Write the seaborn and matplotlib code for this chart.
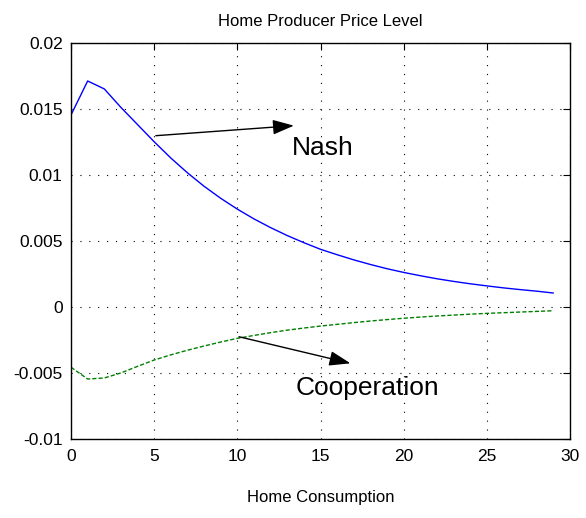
"""Home producer price level: Nash vs Cooperation impulse responses."""
import matplotlib
matplotlib.use("Agg")
import matplotlib.pyplot as plt
import numpy as np
import pandas as pd
import seaborn as sns

periods = list(range(30))
nash = [0.01453, 0.0171, 0.0165, 0.0151, 0.0138, 0.0125, 0.01127, 0.01015,
        0.00913, 0.00822, 0.00740, 0.00666, 0.00600, 0.00540, 0.00486,
        0.00436, 0.00395, 0.00356, 0.00321, 0.00289, 0.00261, 0.00236,
        0.00213, 0.00193, 0.00175, 0.00159, 0.00144, 0.00131, 0.00119,
        0.00105]
cooperation = [-0.00457, -0.00546, -0.00538, -0.0050, -0.0045, -0.00402,
               -0.00363, -0.00328, -0.00296, -0.00266, -0.00238, -0.00216,
               -0.00195, -0.00176, -0.00160, -0.00145, -0.00132, -0.00119,
               -0.00107, -0.00096, -0.00086, -0.00077, -0.00069, -0.00062,
               -0.00055, -0.00049, -0.00044, -0.00039, -0.00034, -0.00029]
x_ticks = [0, 5, 10, 15, 20, 25, 30]
y_ticks = [-0.01, -0.005, 0, 0.005, 0.01, 0.015, 0.02]
y_tick_labels = ["-0.01", "-0.005", "0", "0.005", "0.01", "0.015", "0.02"]

df = pd.DataFrame({
    "period": periods * 2,
    "value": nash + cooperation,
    "regime": ["Nash"] * len(nash) + ["Cooperation"] * len(cooperation),
})

sns.set_style("white")
plt.rcParams["font.family"] = ["Liberation Sans", "DejaVu Sans"]
plt.rcParams["text.color"] = "black"
plt.rcParams["axes.labelcolor"] = "black"

fig = plt.figure(figsize=(5.86, 5.18), dpi=100)
ax = fig.add_axes([0.1212, 0.1525, 0.8515, 0.7651])

sns.lineplot(data=df, x="period", y="value", hue="regime", style="regime",
             palette={"Nash": "#0000ff", "Cooperation": "#008000"},
             dashes={"Nash": "", "Cooperation": (3, 1.5)},
             linewidth=1.0, legend=False, ax=ax)

ax.set_xlim(0, 30)
ax.set_ylim(-0.01, 0.02)
ax.set_xticks(x_ticks)
ax.set_xticklabels([str(t) for t in x_ticks])
ax.set_yticks(y_ticks)
ax.set_yticklabels(y_tick_labels)
ax.grid(True, color="black", linestyle=(0, (1, 7)), linewidth=0.8)
ax.tick_params(direction="in", length=5, width=0.8, labelsize=12.5,
               top=True, right=True, colors="black")
ax.tick_params(axis="x", pad=7)
ax.tick_params(axis="y", pad=6)
for spine in ax.spines.values():
    spine.set_color("black")
    spine.set_linewidth(1.0)

ax.set_title("Home Producer Price Level", fontsize=12, pad=12)
ax.set_xlabel("Home Consumption", fontsize=12, labelpad=19)
ax.set_ylabel("")

arrow = dict(arrowstyle="-|>,head_length=1.0,head_width=0.35",
             color="black", lw=1.0, mutation_scale=13, shrinkA=0, shrinkB=0)
ax.annotate("", xy=(13.4, 0.01372), xytext=(5.1, 0.01296), arrowprops=arrow)
ax.annotate("", xy=(16.8, -0.00427), xytext=(10.1, -0.00226), arrowprops=arrow)
ax.text(13.3, 0.0120, "Nash", fontsize=19, va="center", ha="left")
ax.text(13.5, -0.00614, "Cooperation", fontsize=19, va="center", ha="left")

fig.savefig("out.png", dpi=100)
plt.close(fig)
